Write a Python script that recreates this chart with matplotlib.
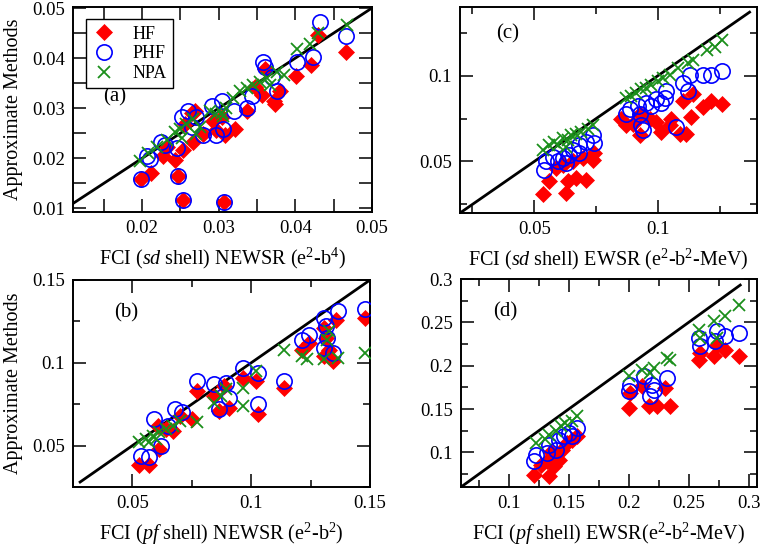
import matplotlib
matplotlib.use("Agg")
import matplotlib.pyplot as plt
from matplotlib.ticker import MultipleLocator, FormatStrFormatter, FuncFormatter

plt.rcParams['font.family'] = ['Liberation Serif', 'DejaVu Serif']
plt.rcParams['mathtext.fontset'] = 'custom'
plt.rcParams['mathtext.rm'] = 'Liberation Serif'
plt.rcParams['mathtext.it'] = 'Liberation Serif:italic'

# ---------------- Panel (a): sd shell NEWSR ----------------
a_hf_x = [0.0199, 0.0212, 0.0247, 0.0254, 0.0307, 0.0243, 0.0228, 0.0232, 0.0254, 0.0256,
          0.0265, 0.0267, 0.0280, 0.0297, 0.0308, 0.0321, 0.0337, 0.0356, 0.0360, 0.0374,
          0.0380, 0.0401, 0.0420, 0.0430, 0.0466, 0.0293, 0.0304, 0.0348, 0.0372, 0.0269]
a_hf_y = [0.0158, 0.0171, 0.0165, 0.0116, 0.0112, 0.0197, 0.0204, 0.0223, 0.0217, 0.0269,
          0.0291, 0.0233, 0.0249, 0.0256, 0.0246, 0.0259, 0.0295, 0.0327, 0.0379, 0.0308,
          0.0334, 0.0365, 0.0386, 0.0447, 0.0412, 0.0275, 0.0282, 0.0343, 0.0314, 0.0295]
a_phf_x = [0.0199, 0.0210, 0.0206, 0.0225, 0.0230, 0.0245, 0.0252, 0.0260, 0.0247, 0.0254,
           0.0307, 0.0271, 0.0280, 0.0291, 0.0297, 0.0304, 0.0306, 0.0337, 0.0343, 0.0358,
           0.0361, 0.0369, 0.0376, 0.0402, 0.0423, 0.0432, 0.0466, 0.0265, 0.0320]
a_phf_y = [0.0158, 0.0199, 0.0204, 0.0233, 0.0227, 0.0220, 0.0282, 0.0295, 0.0165, 0.0116,
           0.0112, 0.0282, 0.0246, 0.0304, 0.0246, 0.0314, 0.0259, 0.0301, 0.0324, 0.0392,
           0.0382, 0.0363, 0.0334, 0.0392, 0.0402, 0.0473, 0.0444, 0.0262, 0.0295]
a_npa_x = [0.0197, 0.0208, 0.0219, 0.0232, 0.0243, 0.0249, 0.0258, 0.0267, 0.0276, 0.0289,
           0.0297, 0.0304, 0.0310, 0.0319, 0.0328, 0.0337, 0.0345, 0.0354, 0.0363, 0.0367,
           0.0376, 0.0385, 0.0402, 0.0419, 0.0430, 0.0467, 0.0306, 0.0271, 0.0252]
a_npa_y = [0.0194, 0.0210, 0.0223, 0.0236, 0.0253, 0.0259, 0.0269, 0.0278, 0.0262, 0.0295,
           0.0288, 0.0291, 0.0301, 0.0321, 0.0334, 0.0340, 0.0347, 0.0353, 0.0360, 0.0347,
           0.0373, 0.0366, 0.0418, 0.0428, 0.0450, 0.0467, 0.0285, 0.0249, 0.0240]
a_diag = [0.011, 0.05]

# ---------------- Panel (c): sd shell EWSR ----------------
c_hf_x = [0.0534, 0.0561, 0.0628, 0.0635, 0.0669, 0.0709, 0.0588, 0.0615, 0.0655, 0.0696,
          0.0736, 0.0743, 0.0872, 0.0899, 0.0926, 0.0966, 0.0993, 0.1013, 0.1047, 0.1054,
          0.1088, 0.1115, 0.1135, 0.1101, 0.1142, 0.1182, 0.1216, 0.1257, 0.0926, 0.0851]
c_hf_y = [0.0309, 0.0389, 0.0319, 0.0386, 0.0405, 0.0395, 0.0462, 0.0481, 0.0500, 0.0519,
          0.0510, 0.0548, 0.0710, 0.0719, 0.0653, 0.0748, 0.0729, 0.0672, 0.0710, 0.0748,
          0.0662, 0.0662, 0.0758, 0.0853, 0.0891, 0.0815, 0.0853, 0.0834, 0.0777, 0.0748]
c_phf_x = [0.0541, 0.0547, 0.0574, 0.0595, 0.0615, 0.0628, 0.0642, 0.0655, 0.0682, 0.0709,
           0.0736, 0.0743, 0.0682, 0.0872, 0.0885, 0.0919, 0.0932, 0.0939, 0.0953, 0.0973,
           0.0993, 0.1013, 0.1027, 0.1034, 0.1074, 0.1101, 0.1122, 0.1128, 0.1182, 0.1216,
           0.1257, 0.0926]
c_phf_y = [0.0452, 0.0500, 0.0529, 0.0500, 0.0519, 0.0490, 0.0538, 0.0567, 0.0595, 0.0614,
           0.0653, 0.0605, 0.0548, 0.0777, 0.0805, 0.0824, 0.0710, 0.0681, 0.0843, 0.0824,
           0.0862, 0.0843, 0.0872, 0.0910, 0.0700, 0.0958, 0.0910, 0.1006, 0.1006, 0.1006,
           0.1025, 0.0777]
c_npa_x = [0.0534, 0.0561, 0.0581, 0.0615, 0.0635, 0.0649, 0.0669, 0.0689, 0.0716, 0.0736,
           0.0595, 0.0628, 0.0872, 0.0892, 0.0912, 0.0932, 0.0953, 0.0973, 0.1000, 0.1020,
           0.1047, 0.1081, 0.1122, 0.1142, 0.1196, 0.1230, 0.1257]
c_npa_y = [0.0567, 0.0595, 0.0614, 0.0634, 0.0624, 0.0653, 0.0662, 0.0672, 0.0691, 0.0710,
           0.0595, 0.0586, 0.0872, 0.0882, 0.0901, 0.0920, 0.0929, 0.0948, 0.0967, 0.0987,
           0.1006, 0.1044, 0.1072, 0.1091, 0.1149, 0.1168, 0.1206]
c_diag = [0.02, 0.137]

# ---------------- Panel (b): pf shell NEWSR ----------------
b_hf_x = [0.0529, 0.0571, 0.0614, 0.0607, 0.0671, 0.0700, 0.0771, 0.0843, 0.0864, 0.0907,
          0.0886, 0.0964, 0.1021, 0.1029, 0.1136, 0.1214, 0.1243, 0.1307, 0.1314, 0.1307,
          0.1329, 0.1343, 0.1357, 0.1479, 0.0643, 0.0750]
b_hf_y = [0.0380, 0.0380, 0.0480, 0.0620, 0.0590, 0.0680, 0.0830, 0.0800, 0.0710, 0.0730,
          0.0860, 0.0910, 0.0890, 0.0690, 0.0850, 0.1080, 0.1120, 0.1210, 0.1150, 0.1040,
          0.1080, 0.1010, 0.1260, 0.1270, 0.0600, 0.0660]
b_phf_x = [0.0536, 0.0571, 0.0621, 0.0593, 0.0679, 0.0707, 0.0771, 0.0843, 0.0864, 0.0893,
           0.0907, 0.0964, 0.1029, 0.1029, 0.1136, 0.1214, 0.1243, 0.1307, 0.1314, 0.1321,
           0.1307, 0.1343, 0.1364, 0.1479, 0.0650]
b_phf_y = [0.0440, 0.0430, 0.0500, 0.0660, 0.0720, 0.0700, 0.0890, 0.0870, 0.0720, 0.0880,
           0.0790, 0.0970, 0.0940, 0.0750, 0.0890, 0.1140, 0.1170, 0.1270, 0.1220, 0.1150,
           0.1090, 0.1060, 0.1310, 0.1324, 0.0620]
b_npa_x = [0.0529, 0.0557, 0.0586, 0.0614, 0.0643, 0.0671, 0.0700, 0.0771, 0.0843, 0.0871,
           0.0893, 0.0964, 0.0964, 0.1021, 0.1136, 0.1214, 0.1236, 0.1307, 0.1321, 0.1329,
           0.1364, 0.1479, 0.0571, 0.0600]
b_npa_y = [0.0520, 0.0540, 0.0560, 0.0580, 0.0600, 0.0620, 0.0650, 0.0640, 0.0760, 0.0800,
           0.0840, 0.0850, 0.0740, 0.0950, 0.1080, 0.1040, 0.1020, 0.1020, 0.1140, 0.1190,
           0.1030, 0.1060, 0.0520, 0.0540]
b_diag = [0.028, 0.15]

# ---------------- Panel (d): pf shell EWSR ----------------
d_hf_x = [0.1208, 0.1264, 0.1333, 0.1319, 0.1375, 0.1389, 0.1444, 0.1486, 0.1528, 0.1569,
          0.1417, 0.2000, 0.2014, 0.2111, 0.2167, 0.2236, 0.2306, 0.2347, 0.2583, 0.2597,
          0.2708, 0.2736, 0.2806, 0.2917, 0.1350]
d_hf_y = [0.0742, 0.0858, 0.0723, 0.0896, 0.0838, 0.0973, 0.1031, 0.1108, 0.1146, 0.1185,
          0.0915, 0.1512, 0.1685, 0.1762, 0.1531, 0.1531, 0.1742, 0.1531, 0.2069, 0.2146,
          0.2108, 0.2242, 0.2185, 0.2108, 0.1000]
d_phf_x = [0.1208, 0.1222, 0.1319, 0.1333, 0.1389, 0.1417, 0.1458, 0.1500, 0.1528, 0.1569,
           0.2000, 0.2014, 0.2125, 0.2194, 0.2208, 0.2181, 0.2319, 0.2583, 0.2597, 0.2722,
           0.2736, 0.2806, 0.2917]
d_phf_y = [0.0896, 0.0973, 0.0992, 0.1088, 0.1031, 0.1146, 0.1185, 0.1223, 0.1185, 0.1281,
           0.1704, 0.1781, 0.1877, 0.1781, 0.1723, 0.1646, 0.1858, 0.2319, 0.2223, 0.2281,
           0.2396, 0.2338, 0.2377]
d_npa_x = [0.1222, 0.1333, 0.1389, 0.1431, 0.1472, 0.1528, 0.1569, 0.1300, 0.2000, 0.2111,
           0.2181, 0.2208, 0.2319, 0.2347, 0.2583, 0.2597, 0.2708, 0.2736, 0.2806, 0.2917]
d_npa_y = [0.1108, 0.1204, 0.1242, 0.1300, 0.1338, 0.1358, 0.1415, 0.1150, 0.1877, 0.1954,
           0.1915, 0.1973, 0.2088, 0.2069, 0.2415, 0.2319, 0.2512, 0.2319, 0.2569, 0.2704]
d_diag = [0.06, 0.293]

series_names = ['HF', 'PHF', 'NPA']
xlabels = {
    'a': r'FCI ($\it{sd}$ shell) NEWSR (e$^{2}$-b$^{4}$)',
    'c': r'FCI ($\it{sd}$ shell) EWSR (e$^{2}$-b$^{2}$-MeV)',
    'b': r'FCI ($\it{pf}$ shell) NEWSR (e$^{2}$-b$^{2}$)',
    'd': r'FCI ($\it{pf}$ shell) EWSR(e$^{2}$-b$^{2}$-MeV)',
}
ylabel = 'Approximate Methods'

RED = '#ff0000'
BLUE = '#0000ff'
GREEN = '#1b8f1b'

W, H = 770, 546
fig = plt.figure(figsize=(W / 100, H / 100), dpi=100)


def px_axes(l, t, r, b):
    return fig.add_axes([l / W, 1 - b / H, (r - l) / W, (b - t) / H])


ax_a = px_axes(73, 7, 372, 212)
ax_c = px_axes(460, 7, 757, 213)
ax_b = px_axes(73, 280, 370, 487)
ax_d = px_axes(461, 279, 757, 487)

fmt = FuncFormatter(lambda v, p: ('%g' % round(v, 4)))


def draw(ax, hx, hy, px, py, nx, ny, diag, xlim, ylim, xmaj, xmin, ymaj, ymin,
         label, lx, ly, xlabel, show_ylabel, eq_minor=False):
    ax.plot(diag, diag, color='black', lw=2.0, zorder=1)
    ax.plot(hx, hy, ls='none', marker='D', ms=8, mfc=RED, mec=RED, mew=0.5,
            label=series_names[0], zorder=2)
    ax.plot(px, py, ls='none', marker='o', ms=11, mfc='none', mec=BLUE, mew=1.2,
            label=series_names[1], zorder=3)
    ax.plot(nx, ny, ls='none', marker='x', ms=8, color=GREEN, mew=1.3,
            label=series_names[2], zorder=4)
    ax.set_xlim(*xlim)
    ax.set_ylim(*ylim)
    ax.xaxis.set_major_locator(MultipleLocator(xmaj))
    ax.xaxis.set_minor_locator(MultipleLocator(xmin))
    ax.yaxis.set_major_locator(MultipleLocator(ymaj))
    ax.yaxis.set_minor_locator(MultipleLocator(ymin))
    ax.xaxis.set_major_formatter(fmt)
    ax.yaxis.set_major_formatter(fmt)
    ax.tick_params(which='both', direction='in', top=True, right=True,
                   width=1.1, labelsize=13.5, pad=6)
    ax.tick_params(which='major', length=9.5)
    ax.tick_params(which='minor', length=9.5 if eq_minor else 5)
    for s in ax.spines.values():
        s.set_linewidth(1.4)
    ax.text(lx, ly, label, transform=ax.transAxes, fontsize=15,
            ha='center', va='center')
    ax.set_xlabel(xlabel, fontsize=14.5, labelpad=6)
    if show_ylabel:
        ax.set_ylabel(ylabel, fontsize=14.5, labelpad=6)


draw(ax_a, a_hf_x, a_hf_y, a_phf_x, a_phf_y, a_npa_x, a_npa_y, a_diag,
     (0.011, 0.05), (0.0093, 0.0502), 0.01, 0.005, 0.01, 0.005,
     '(a)', 0.14, 0.56, xlabels['a'], True, eq_minor=True)
draw(ax_c, c_hf_x, c_hf_y, c_phf_x, c_phf_y, c_npa_x, c_npa_y, c_diag,
     (0.02, 0.14), (0.02, 0.14), 0.05, 0.025, 0.05, 0.025,
     '(c)', 0.16, 0.87, xlabels['c'], False)
draw(ax_b, b_hf_x, b_hf_y, b_phf_x, b_phf_y, b_npa_x, b_npa_y, b_diag,
     (0.025, 0.15), (0.025, 0.15), 0.05, 0.025, 0.05, 0.025,
     '(b)', 0.18, 0.84, xlabels['b'], True)
draw(ax_d, d_hf_x, d_hf_y, d_phf_x, d_phf_y, d_npa_x, d_npa_y, d_diag,
     (0.06, 0.307), (0.06, 0.30), 0.05, 0.025, 0.05, 0.025,
     '(d)', 0.15, 0.84, xlabels['d'], False)

leg = ax_a.legend(loc='upper left', bbox_to_anchor=(0.045, 0.94), fontsize=13,
                  frameon=True, fancybox=False, edgecolor='black', framealpha=1,
                  handletextpad=1.0, borderpad=0.35, labelspacing=0.15,
                  handlelength=1.2, borderaxespad=0)
leg.get_frame().set_linewidth(1.0)

fig.savefig('out.png', dpi=100)
